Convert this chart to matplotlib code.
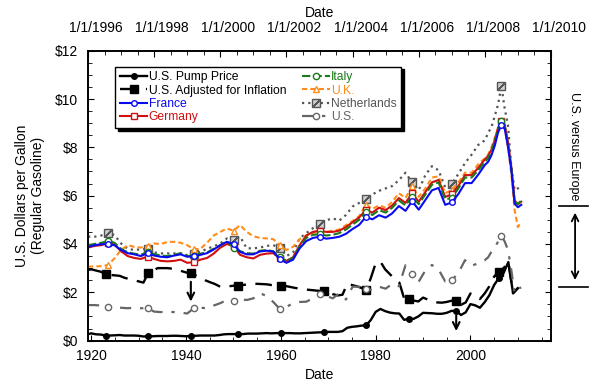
import numpy as np
import matplotlib
matplotlib.use("Agg")
import matplotlib.pyplot as plt
from matplotlib.transforms import blended_transform_factory, ScaledTranslation
from matplotlib.ticker import MultipleLocator, FuncFormatter

plt.rcParams['font.family'] = ['Liberation Sans', 'DejaVu Sans']

# --- US annual series (bottom axis) ---
years = list(range(1919, 2011))
pump = [0.25, 0.30, 0.26, 0.25, 0.21, 0.21, 0.22, 0.23, 0.21, 0.21,
        0.21, 0.20, 0.17, 0.18, 0.18, 0.19, 0.19, 0.19, 0.20, 0.20,
        0.19, 0.18, 0.19, 0.20, 0.21, 0.21, 0.21, 0.21, 0.23, 0.26,
        0.27, 0.27, 0.27, 0.27, 0.29, 0.29, 0.29, 0.30, 0.31, 0.30,
        0.31, 0.31, 0.31, 0.31, 0.30, 0.30, 0.31, 0.32, 0.33, 0.34,
        0.35, 0.36, 0.36, 0.36, 0.39, 0.53, 0.57, 0.59, 0.62, 0.63,
        0.86, 1.19, 1.31, 1.22, 1.16, 1.13, 1.12, 0.86, 0.90, 0.90,
        1.00, 1.15, 1.14, 1.13, 1.11, 1.11, 1.15, 1.23, 1.23, 1.06,
        1.17, 1.51, 1.46, 1.36, 1.59, 1.88, 2.30, 2.59, 2.80, 3.25,
        1.96, 2.17]
adjusted = [2.92, 2.95, 2.90, 2.85, 2.76, 2.72, 2.70, 2.68, 2.60, 2.55,
            2.50, 2.45, 2.40, 2.80, 2.90, 3.00, 3.00, 3.00, 2.98, 2.95,
            2.88, 2.82, 2.80, 2.70, 2.60, 2.50, 2.42, 2.35, 2.25, 2.22,
            2.25, 2.27, 2.28, 2.30, 2.33, 2.35, 2.35, 2.34, 2.33, 2.30,
            2.29, 2.28, 2.26, 2.22, 2.18, 2.15, 2.12, 2.10, 2.08, 2.06,
            2.04, 2.00, 1.92, 1.87, 1.90, 2.35, 2.30, 2.25, 2.18, 2.08,
            2.60, 3.20, 3.27, 2.95, 2.75, 2.55, 2.40, 1.75, 1.72, 1.66,
            1.62, 1.78, 1.70, 1.62, 1.58, 1.57, 1.60, 1.65, 1.62, 1.48,
            1.58, 1.95, 1.85, 1.72, 1.95, 2.25, 2.65, 2.85, 3.00, 3.25,
            1.96, 2.17]
us_mark_years = [1923, 1932, 1941, 1951, 1960, 1969, 1978, 1987, 1997, 2006]

# --- Europe + US weekly-type series (top axis) ---
eu_dates = list(np.round(np.arange(1996.0, 2007.9, 0.2), 1)) + \
    [2008.0, 2008.1, 2008.2, 2008.3, 2008.4, 2008.5, 2008.6, 2008.7,
     2008.8, 2008.9, 2009.0, 2009.1]
france = [3.88, 3.95, 3.99, 3.99, 3.95, 3.75, 3.62, 3.57, 3.50, 3.62,
          3.52, 3.47, 3.45, 3.52, 3.57, 3.47, 3.49, 3.55, 3.62, 3.77,
          3.95, 4.09, 3.99, 3.67, 3.57, 3.57, 3.69, 3.72, 3.69, 3.37,
          3.22, 3.35, 3.82, 4.12, 4.25, 4.30, 4.22, 4.25, 4.30, 4.42,
          4.62, 4.79, 5.12, 5.02, 5.19, 5.09, 5.27, 5.57, 5.37, 5.77,
          5.42, 5.82, 6.22, 6.32, 5.62, 5.72, 6.07, 6.52, 6.52, 6.87,
          7.27, 7.40, 7.67, 8.07, 8.62, 8.92, 8.77, 8.02, 7.07, 5.67,
          5.52, 5.62]
germany = [3.85, 3.92, 3.95, 4.05, 3.98, 3.70, 3.50, 3.42, 3.38, 3.48,
           3.38, 3.30, 3.28, 3.30, 3.35, 3.22, 3.25, 3.35, 3.42, 3.60,
           3.85, 4.00, 3.90, 3.55, 3.45, 3.40, 3.55, 3.60, 3.62, 3.40,
           3.30, 3.45, 3.95, 4.35, 4.50, 4.55, 4.50, 4.50, 4.55, 4.70,
           4.90, 5.10, 5.40, 5.30, 5.50, 5.40, 5.60, 5.90, 5.70, 6.10,
           5.75, 6.15, 6.55, 6.65, 5.95, 6.05, 6.40, 6.85, 6.85, 7.15,
           7.50, 7.65, 7.90, 8.30, 8.80, 9.10, 8.95, 8.20, 7.20, 5.80,
           5.65, 5.75]
italy = [3.95, 4.00, 4.05, 4.12, 4.05, 3.80, 3.65, 3.60, 3.55, 3.68,
         3.58, 3.52, 3.50, 3.55, 3.62, 3.50, 3.52, 3.60, 3.65, 3.80,
         3.95, 4.10, 3.85, 3.70, 3.62, 3.60, 3.72, 3.75, 3.70, 3.45,
         3.30, 3.42, 3.90, 4.25, 4.38, 4.40, 4.35, 4.38, 4.45, 4.60,
         4.80, 5.00, 5.33, 5.20, 5.40, 5.30, 5.50, 5.80, 5.60, 5.95,
         5.65, 6.05, 6.45, 6.55, 5.85, 5.90, 6.30, 6.75, 6.75, 7.05,
         7.40, 7.55, 7.85, 8.25, 8.80, 9.10, 8.90, 8.15, 7.15, 5.75,
         5.65, 5.80]
uk = [3.06, 3.07, 3.08, 3.13, 3.40, 3.75, 3.95, 3.88, 3.85, 3.92,
      4.02, 4.00, 4.08, 4.09, 4.05, 3.95, 3.78, 3.80, 4.05, 4.35,
      4.50, 4.64, 4.55, 4.78, 4.50, 4.32, 4.25, 4.23, 4.20, 3.95,
      3.75, 3.88, 4.20, 4.35, 4.45, 4.55, 4.50, 4.55, 4.60, 4.78,
      4.95, 5.15, 5.63, 5.45, 5.60, 5.50, 5.75, 6.10, 5.90, 6.40,
      5.95, 6.30, 6.75, 6.80, 6.10, 6.23, 6.55, 6.95, 6.95, 7.30,
      7.55, 7.70, 8.00, 8.40, 8.80, 9.05, 8.80, 8.00, 6.90, 5.40,
      4.70, 4.90]
netherlands = [4.30, 4.30, 4.35, 4.46, 4.37, 4.02, 3.80, 3.75, 3.78, 3.79,
               3.65, 3.61, 3.61, 3.61, 3.61, 3.54, 3.60, 3.68, 3.80, 3.90,
               4.02, 4.23, 4.16, 4.30, 3.82, 3.82, 3.85, 3.92, 3.95, 3.85,
               3.50, 3.65, 4.23, 4.45, 4.65, 4.82, 4.98, 5.06, 4.97, 5.20,
               5.55, 5.70, 5.88, 6.05, 6.20, 6.30, 6.40, 6.64, 6.95, 6.55,
               6.23, 6.85, 7.22, 7.05, 6.35, 6.50, 6.90, 7.35, 7.70, 8.10,
               8.29, 8.60, 8.84, 9.30, 9.78, 10.55, 9.60, 8.91, 7.20, 6.23,
               6.30, 6.43]
us_weekly = [1.47, 1.47, 1.45, 1.41, 1.38, 1.36, 1.34, 1.36, 1.34, 1.34,
             1.20, 1.18, 1.20, 1.18, 1.16, 1.12, 1.34, 1.36, 1.34, 1.45,
             1.55, 1.68, 1.62, 1.71, 1.68, 1.75, 1.96, 1.85, 1.60, 1.31,
             1.40, 1.54, 1.60, 1.61, 1.75, 1.92, 1.85, 1.75, 1.96, 1.70,
             2.23, 2.23, 2.12, 2.10, 2.23, 2.15, 2.35, 2.25, 3.12, 2.74,
             2.44, 2.90, 3.13, 2.95, 2.45, 2.50, 2.80, 3.33, 3.10, 3.20,
             3.33, 3.45, 3.68, 3.85, 4.10, 4.34, 4.10, 3.75, 2.92, 1.96,
             2.15, 2.20]
eu_mark_dates = [1996.6, 1997.8, 1999.2, 2000.4, 2001.8, 2003.0, 2004.4,
                 2005.8, 2007.0, 2008.5]

top_ticks = [1996, 1998, 2000, 2002, 2004, 2006, 2008, 2010]
top_labels = ['1/1/1996', '1/1/1998', '1/1/2000', '1/1/2002',
              '1/1/2004', '1/1/2006', '1/1/2008', '1/1/2010']

eu_x = np.array(eu_dates)
mk_eu = [int(np.argmin(np.abs(eu_x - d))) for d in eu_mark_dates]
mk_us = [years.index(y) for y in us_mark_years]

c_fr, c_de, c_it, c_uk = '#0A0AF0', '#D01010', '#1A7A1A', '#FF8C1A'
c_nl, c_us = '#555555', '#666666'

fig = plt.figure(figsize=(5.89, 3.83), dpi=100)
ax = fig.add_axes([88 / 589, 1 - 340.6 / 383, 463 / 589, 289.9 / 383])
ax2 = ax.twiny()

# bottom-axis series
h_pump, = ax.plot(years, pump, color='k', lw=1.7, marker='o', ms=4,
                  markevery=mk_us)
h_adj, = ax.plot(years, adjusted, color='k', lw=1.7, ls=(0, (7, 4)),
                 marker='s', ms=5.5, markevery=mk_us)

# top-axis series
h_us, = ax2.plot(eu_dates, us_weekly, color=c_us, lw=1.6,
                 ls=(0, (5, 4, 1.5, 4)), marker='o', ms=4.5, mfc='white',
                 mec=c_us, mew=1, markevery=mk_eu)
h_nl, = ax2.plot(eu_dates, netherlands, color=c_nl, lw=1.6,
                 ls=(0, (1, 1.8)), marker='s', ms=6, mfc='#d0d0d0',
                 mec=c_nl, mew=1, markevery=mk_eu)
h_nl2, = ax2.plot(eu_x[mk_eu], np.array(netherlands)[mk_eu], ls='none',
                  marker=(2, 2, -45), ms=6, mec=c_nl, mew=1)
h_uk, = ax2.plot(eu_dates, uk, color=c_uk, lw=1.5, ls=(0, (2.5, 1.5)),
                 marker='^', ms=5, mfc='white', mec=c_uk, mew=1,
                 markevery=mk_eu)
h_de, = ax2.plot(eu_dates, germany, color=c_de, lw=1.5, marker='s',
                 ms=5, mfc='white', mec=c_de, mew=1, markevery=mk_eu)
h_it, = ax2.plot(eu_dates, italy, color=c_it, lw=1.5, ls=(0, (4, 1.5)),
                 marker='o', ms=4.5, mfc='white', mec=c_it, mew=1,
                 markevery=mk_eu)
h_fr, = ax2.plot(eu_dates, france, color=c_fr, lw=1.5, marker='o',
                 ms=4, mfc='white', mec=c_fr, mew=1, markevery=mk_eu)

# arrows
arw = dict(arrowstyle='->', lw=1.5, color='k', mutation_scale=12)
ax.annotate('', xy=(1941, 1.5), xytext=(1941, 2.55), arrowprops=arw)
ax.annotate('', xy=(1997, 0.28), xytext=(1997, 1.15), arrowprops=arw)

# axes formatting
ax.set_xlim(1919.3, 2017.0)
ax.set_ylim(0, 12)
ax2.set_xlim(1996, 2010)
ax.xaxis.set_major_locator(MultipleLocator(20))
ax.xaxis.set_minor_locator(MultipleLocator(5))
ax.yaxis.set_major_locator(MultipleLocator(2))
ax.yaxis.set_minor_locator(MultipleLocator(0.5))
ax.yaxis.set_major_formatter(FuncFormatter(lambda v, p: r'\$%d' % v))
ax.tick_params(which='both', direction='in', right=True, top=False,
               labelsize=10)
ax.tick_params(which='major', length=4)
ax.tick_params(which='minor', length=3)
ax.tick_params(axis='x', pad=6)
ax.tick_params(axis='y', pad=7)
ax2.set_xticks(top_ticks)
ax2.set_xticklabels(top_labels)
ax2.xaxis.set_minor_locator(MultipleLocator(0.5))
ax2.tick_params(which='both', direction='in', labelsize=10, pad=11)
ax2.tick_params(which='major', length=4)
ax2.tick_params(which='minor', length=3)
for lab in ax2.get_xticklabels():
    lab.set_transform(lab.get_transform() +
                      ScaledTranslation(0.08, 0, fig.dpi_scale_trans))
for a in (ax, ax2):
    for s in a.spines.values():
        s.set_linewidth(1.2)

ax.set_xlabel('Date', fontsize=10, labelpad=4)
ax2.set_xlabel('Date', fontsize=10, labelpad=3)
ax.set_ylabel('U.S. Dollars per Gallon\n(Regular Gasoline)', fontsize=10,
              labelpad=7)

# legend
handles = [h_pump, h_adj, h_fr, h_de, h_it, h_uk, (h_nl, h_nl2), h_us]
labels = ['U.S. Pump Price', 'U.S. Adjusted for Inflation', 'France',
          'Germany', 'Italy', 'U.K.', 'Netherlands', 'U.S.']
leg = ax2.legend(handles, labels, ncol=2, loc='upper left',
                 bbox_to_anchor=(0.058, 0.945), fontsize=8.7,
                 frameon=True, fancybox=False, edgecolor='k',
                 framealpha=1, borderaxespad=0, labelspacing=0.1,
                 handlelength=2.3, handletextpad=0.1, columnspacing=1.3,
                 borderpad=0.4,
                 shadow={'color': 'k', 'alpha': 1})
leg.get_frame().set_linewidth(1.0)
for t, c in zip(leg.get_texts(), ['k', 'k', c_fr, c_de, c_it, c_uk,
                                  c_nl, c_us]):
    t.set_color(c)

# right-side annotation
tr = blended_transform_factory(ax.transAxes, ax.transData)
ax.plot([1.017, 1.08], [5.59, 5.59], transform=tr, clip_on=False,
        color='k', lw=1.2)
ax.plot([1.017, 1.08], [2.23, 2.23], transform=tr, clip_on=False,
        color='k', lw=1.2)
ax.annotate('', xy=(1.052, 2.39), xytext=(1.052, 5.41), xycoords=tr,
            textcoords=tr, arrowprops=dict(arrowstyle='<->', lw=1.3,
                                           color='k', mutation_scale=12))
ax.text(1.049, 8.05, 'U.S. versus Europe', rotation=-90, transform=tr,
        ha='center', va='center', fontsize=9, clip_on=False)

fig.savefig('out.png', dpi=100)
